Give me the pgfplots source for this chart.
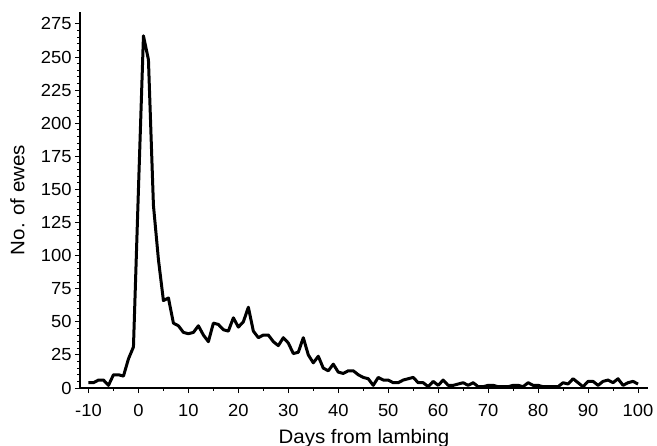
\documentclass[border=0pt]{standalone}
\usepackage{pgfplots}
\pgfplotsset{compat=1.18}
\usepackage{fontspec}
\setmainfont{Liberation Sans}[FakeStretch=1.05]
\begin{document}
\begin{tikzpicture}
\begin{axis}[
  at={(0,0)}, anchor=south west,
  scale only axis, width=568bp, height=376bp,
  xmin=-11.7, xmax=102, ymin=0, ymax=284,
  axis x line*=bottom, axis y line*=left,
  axis line style={-, line width=1.1bp, black},
  xtick={-10,0,...,100}, minor x tick num=1,
  ytick={0,25,...,275}, minor y tick num=4,
  tick align=outside,
  major tick length=5bp, minor tick length=2.5bp,
  every tick/.style={black, line width=0.9bp},
  /pgf/number format/assume math mode=true,
  ticklabel style={font=\fontsize{17.5bp}{19bp}\selectfont},
  xticklabel style={anchor=base, yshift=-23bp},
  yticklabel style={anchor=east},
  xlabel={Days from lambing},
  ylabel={No. of ewes},
  label style={font=\fontsize{19.5bp}{21bp}\selectfont},
  xlabel style={at={(axis description cs:0.5,0)}, anchor=base, yshift=-55bp},
  ylabel style={at={(axis description cs:0,0.5)}, anchor=center, rotate=0, yshift=62.5bp},
  clip=false,
]
\addplot[black, line width=3bp, line join=round] table {
x y
-10 4
-9 4
-8 6
-7 6
-6 2
-5 10
-4 10
-3 9
-2 22
-1 31
0 150
1 266
2 248
3 138
4 97
5 66
6 68
7 49
8 47
9 42
10 41
11 42
12 47
13 40
14 35
15 49
16 48
17 44
18 43
19 53
20 46
21 50
22 61
23 43
24 38
25 40
26 40
27 35
28 32
29 38
30 34
31 26
32 27
33 38
34 25
35 19
36 24
37 15
38 13
39 18
40 12
41 11
42 13
43 13
44 10
45 8
46 7
47 2
48 8
49 6
50 6
51 4
52 4
53 6
54 7
55 8
56 4
57 4
58 1
59 5
60 2
61 6
62 2
63 2
64 3
65 4
66 2
67 4
68 1
69 1
70 2
71 2
72 1
73 1
74 1
75 2
76 2
77 1
78 4
79 2
80 2
81 1
82 1
83 1
84 1
85 4
86 3
87 7
88 4
89 1
90 5
91 5
92 2
93 5
94 6
95 4
96 7
97 2
98 4
99 5
100 3
};
\end{axis}
\pgfresetboundingbox
\path[use as bounding box] (-80bp,-58bp) rectangle (577bp,388bp);
\end{tikzpicture}
\end{document}
